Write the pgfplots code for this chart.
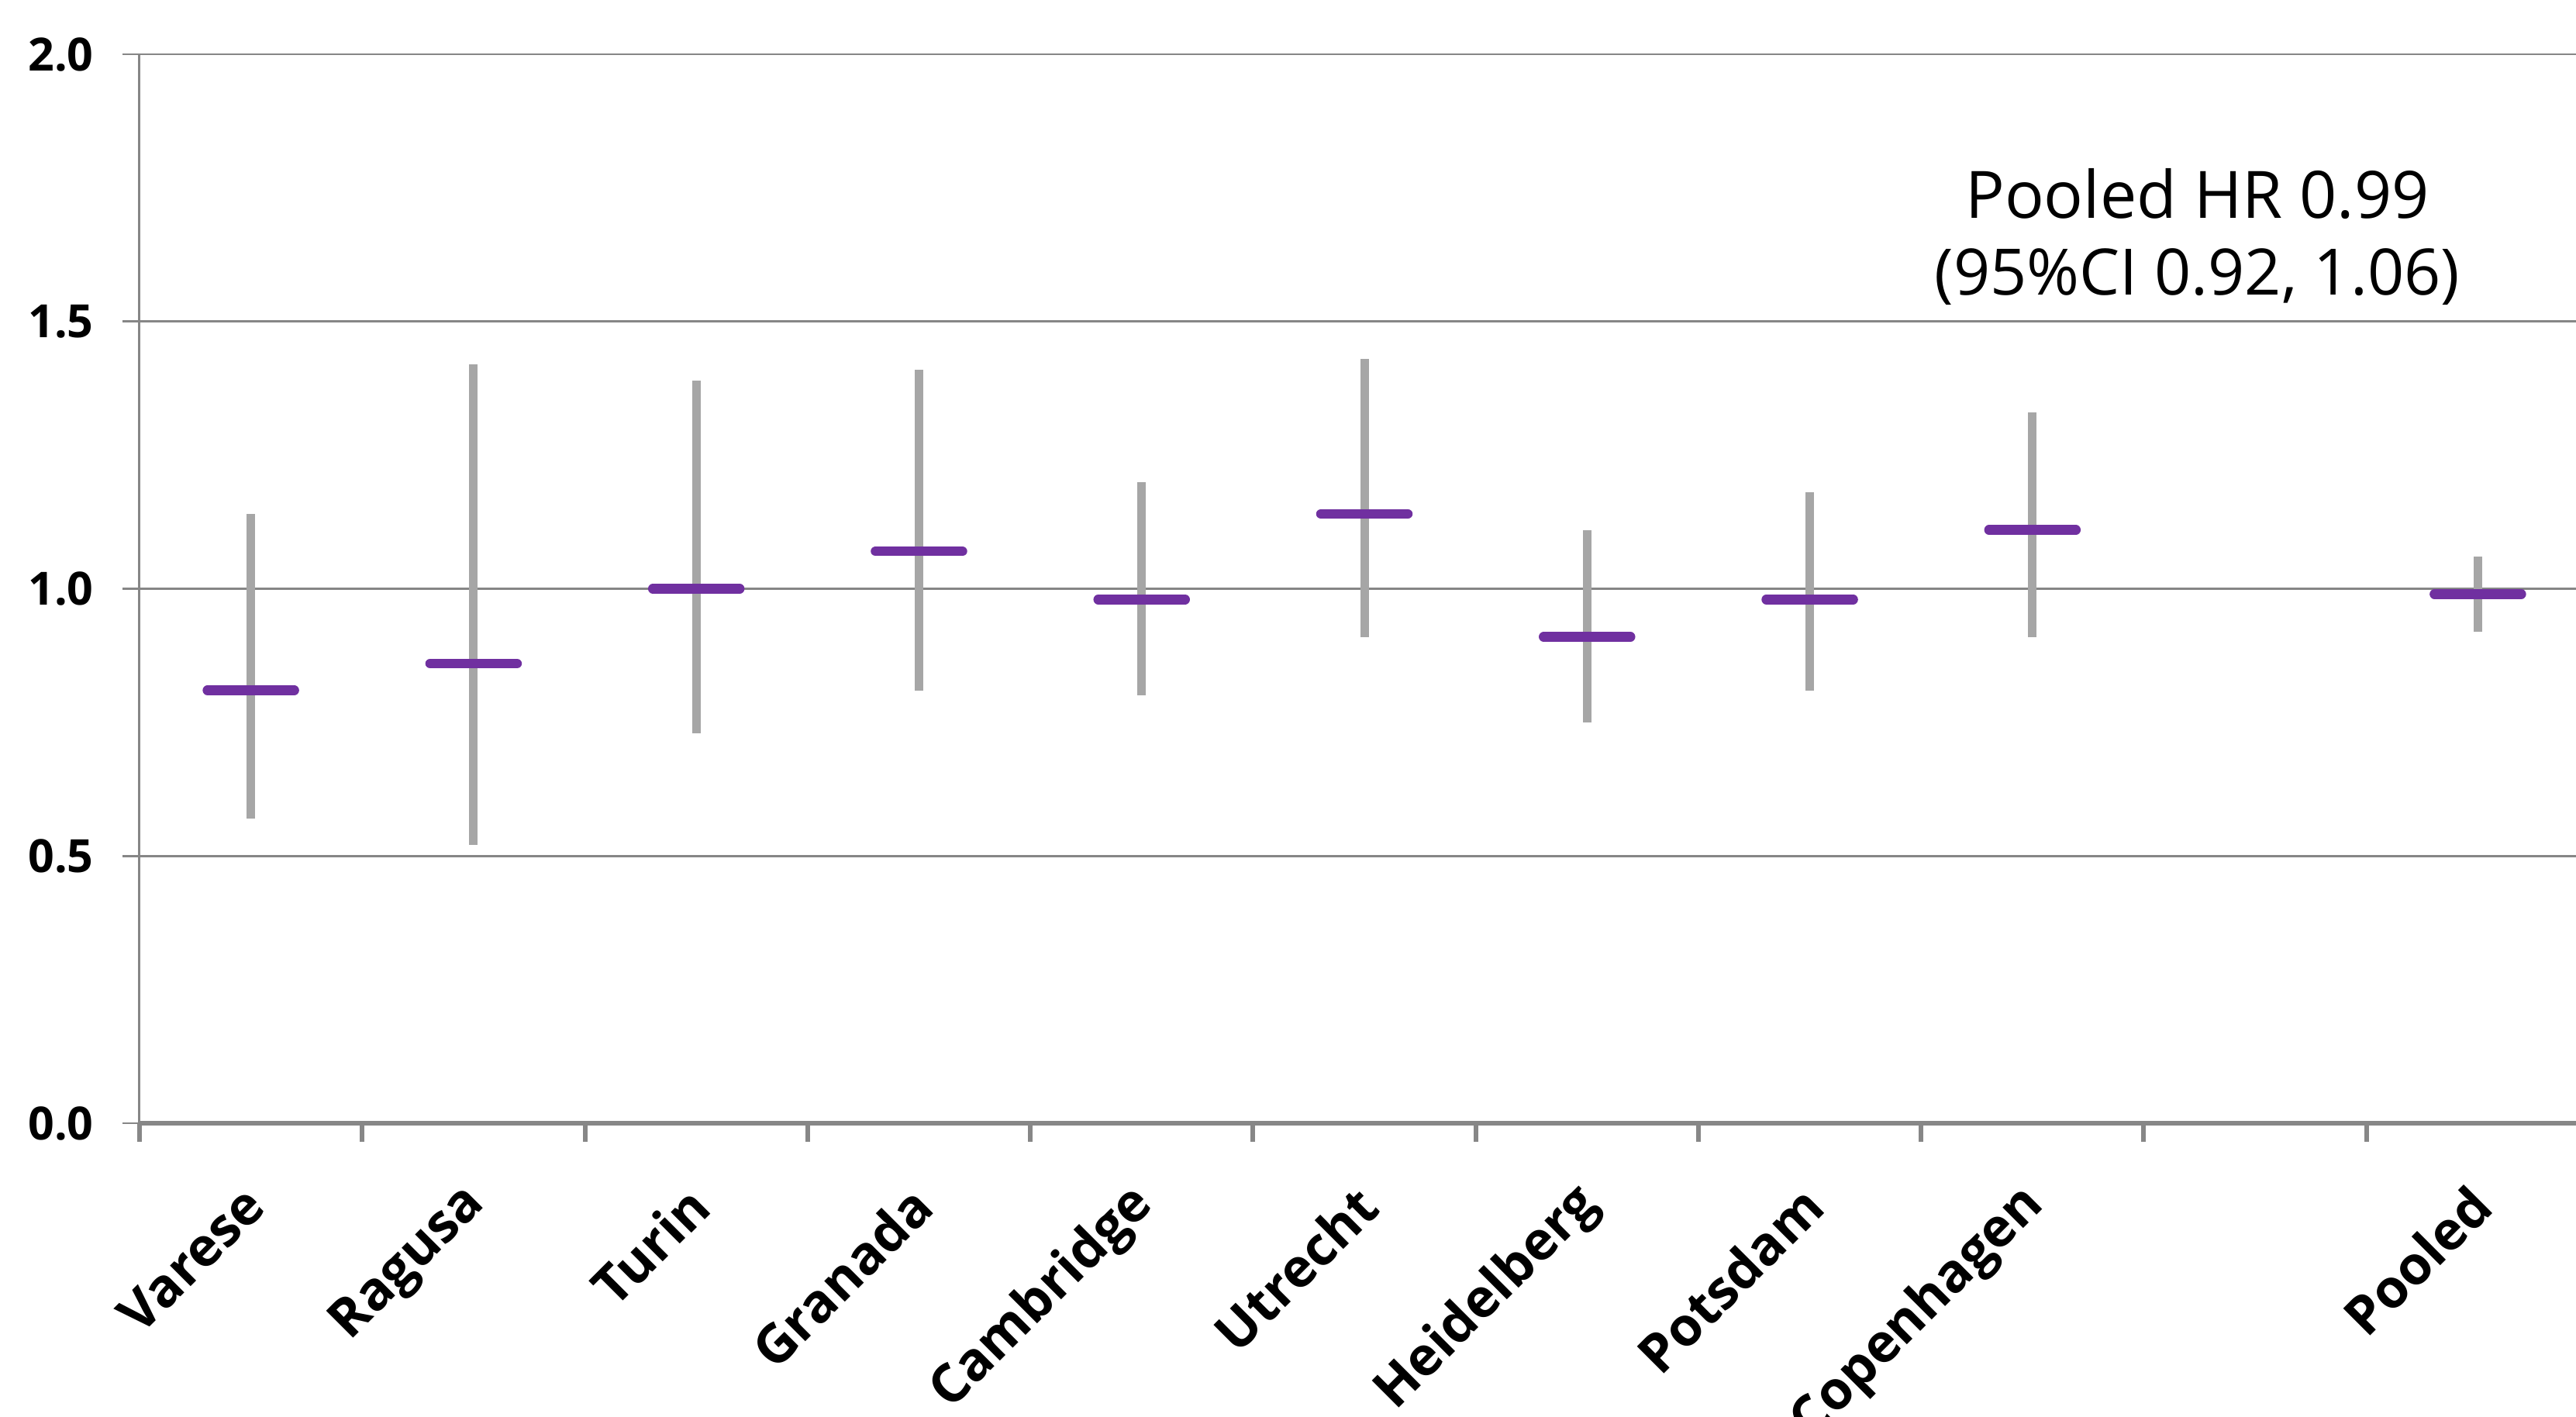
\documentclass[border=0pt]{standalone}
\usepackage{fontspec}
\setmainfont{Open Sans}
\usepackage{pgfplots}
\pgfplotsset{compat=1.18}
\usepackage{pgfplotstable}
\definecolor{purp}{HTML}{7030A0}
\definecolor{barc}{HTML}{A6A6A6}
\definecolor{gridc}{HTML}{868686}
\definecolor{axc}{HTML}{878787}

\pgfplotstableread{
x hr lo hi
0 0.81 0.57 1.14
1 0.86 0.52 1.42
2 1.00 0.73 1.39
3 1.07 0.81 1.41
4 0.98 0.80 1.20
5 1.14 0.91 1.43
6 0.91 0.75 1.11
7 0.98 0.81 1.18
8 1.11 0.91 1.33
10 0.99 0.92 1.06
}\data

\begin{document}
\begin{tikzpicture}
\begin{axis}[
 at={(0,0)}, anchor=south west, scale only axis, width=31.6cm, height=13.79cm,
 xmin=-0.5, xmax=10.5, ymin=0, ymax=2,
 axis x line*=bottom, axis y line*=left,
 xtick={0,...,10},
 xticklabels={Varese,Ragusa,Turin,Granada,Cambridge,Utrecht,Heidelberg,Potsdam,Copenhagen,,Pooled},
 minor xtick={-0.5,0.5,...,10.5},
 major x tick style={draw=none},
 minor x tick style={line width=0.06cm, draw=axc},
 minor tick length=0.235cm,
 major tick length=0.22cm,
 tick align=outside,
 ytick={0,0.5,...,2},
 ymajorgrids, grid style={line width=0.025cm, draw=gridc},
 y tick style={line width=0.025cm, draw=gridc},
 x axis line style={line width=0.065cm, draw=axc},
 y axis line style={line width=0.03cm, draw=gridc},
 /pgf/number format/assume math mode=true,
 yticklabel style={font=\bfseries\fontsize{16.8}{18}\selectfont, xshift=-0.25cm, /pgf/number format/.cd, fixed, fixed zerofill, precision=1},
 xticklabel style={font=\bfseries\fontsize{19.6}{22}\selectfont, yshift=-0.64cm, xshift=0.13cm, rotate=45, anchor=east},
 clip=false,
]
\addplot[draw=none, mark=none, forget plot,
  error bars/.cd, y dir=both, y explicit, error mark=none,
  error bar style={line width=0.11cm, draw=barc, solid}]
  table[x=x, y=hr, y error plus expr=\thisrow{hi}-\thisrow{hr}, y error minus expr=\thisrow{hr}-\thisrow{lo}] {\data};
\addplot[only marks, mark=-, mark size=0.56cm,
  mark options={line width=0.125cm, line cap=round, draw=purp}]
  table[x=x, y=hr] {\data};
\node[anchor=base, font=\fontsize{24}{28}\selectfont] at (axis cs:8.74,1.693) {Pooled HR 0.99};
\node[anchor=base, font=\fontsize{23.5}{28}\selectfont] at (axis cs:8.74,1.549) {(95\%CI 0.92, 1.06)};
\end{axis}
\pgfresetboundingbox
\useasboundingbox (-1.80,-3.78) rectangle (31.43,14.49);
\end{tikzpicture}
\end{document}
